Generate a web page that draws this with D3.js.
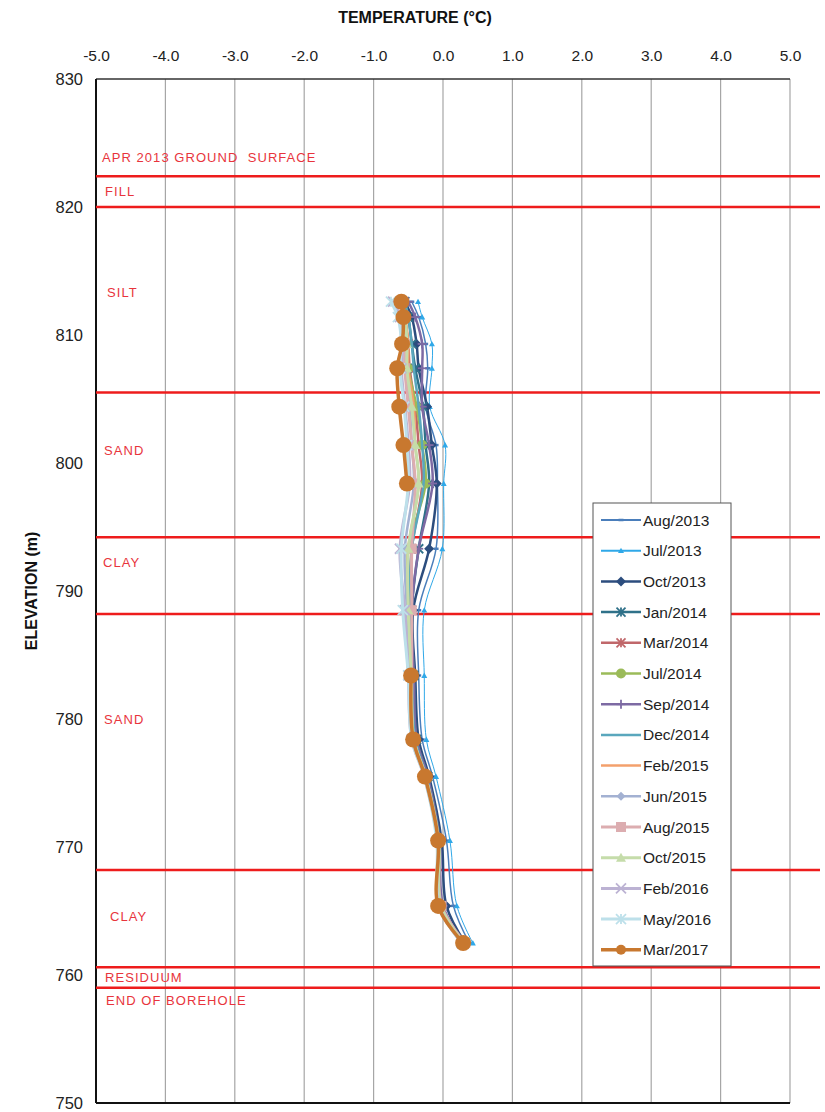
<!DOCTYPE html>
<html>
<head>
<script src="https://cdn.jsdelivr.net/npm/d3@7"></script>
<style>
body { margin: 0; background: #fff; }
* { font-family: 'Liberation Sans', Arial, sans-serif; }
</style>
</head>
<body>
<svg id="chart"></svg>
<script>
// elevations of the thermistor nodes (m)
const elevations = [812.6, 811.4, 809.3, 807.4, 804.4, 801.4, 798.4, 793.3, 788.5, 783.4, 778.4, 775.5, 770.5, 765.4, 762.5];

const seriesNames = ['Aug/2013', 'Jul/2013', 'Oct/2013', 'Jan/2014', 'Mar/2014', 'Jul/2014', 'Sep/2014',
  'Dec/2014', 'Feb/2015', 'Jun/2015', 'Aug/2015', 'Oct/2015', 'Feb/2016', 'May/2016', 'Mar/2017'];

const aug2013 = [-0.45, -0.35, -0.25, -0.22, -0.25, -0.10, -0.08, -0.10, -0.35, -0.35, -0.30, -0.15, 0.05, 0.15, 0.38];
const jul2013 = [-0.36, -0.30, -0.16, -0.16, -0.19, 0.03, 0.01, -0.01, -0.27, -0.27, -0.24, -0.10, 0.10, 0.20, 0.43];
const oct2013 = [-0.55, -0.45, -0.38, -0.35, -0.23, -0.16, -0.09, -0.20, -0.43, -0.40, -0.35, -0.20, -0.02, 0.05, 0.32];
const jan2014 = [-0.55, -0.50, -0.45, -0.40, -0.29, -0.25, -0.20, -0.35, -0.45, -0.42, -0.38, -0.22, -0.05, -0.02, 0.30];
const mar2014 = [-0.60, -0.55, -0.50, -0.48, -0.40, -0.35, -0.30, -0.45, -0.48, -0.45, -0.40, -0.24, -0.07, -0.05, 0.28];
const jul2014 = [-0.60, -0.55, -0.52, -0.50, -0.38, -0.30, -0.25, -0.50, -0.50, -0.45, -0.42, -0.25, -0.07, -0.05, 0.28];
const sep2014 = [-0.50, -0.40, -0.30, -0.30, -0.30, -0.20, -0.15, -0.35, -0.45, -0.42, -0.38, -0.22, -0.05, 0.00, 0.30];
const dec2014 = [-0.55, -0.50, -0.45, -0.42, -0.35, -0.30, -0.28, -0.45, -0.48, -0.45, -0.40, -0.24, -0.06, -0.03, 0.30];
const feb2015 = [-0.60, -0.55, -0.50, -0.50, -0.42, -0.40, -0.35, -0.50, -0.50, -0.46, -0.42, -0.25, -0.07, -0.05, 0.28];
const jun2015 = [-0.62, -0.58, -0.55, -0.55, -0.48, -0.45, -0.42, -0.55, -0.52, -0.47, -0.43, -0.26, -0.08, -0.06, 0.27];
const aug2015 = [-0.62, -0.58, -0.55, -0.55, -0.50, -0.45, -0.40, -0.45, -0.45, -0.45, -0.42, -0.25, -0.07, -0.02, 0.32];
const oct2015 = [-0.60, -0.55, -0.52, -0.52, -0.45, -0.40, -0.35, -0.50, -0.50, -0.46, -0.42, -0.25, -0.06, -0.03, 0.30];
const feb2016 = [-0.72, -0.62, -0.58, -0.60, -0.55, -0.50, -0.48, -0.62, -0.55, -0.50, -0.45, -0.27, -0.08, -0.06, 0.27];
const may2016 = [-0.75, -0.65, -0.60, -0.62, -0.56, -0.52, -0.50, -0.60, -0.58, -0.50, -0.45, -0.27, -0.09, -0.06, 0.27];
// two nodes not read in Mar/2017
const mar2017 = [-0.60, -0.57, -0.59, -0.66, -0.63, -0.57, -0.52, null, null, -0.46, -0.43, -0.26, -0.07, -0.07, 0.29];

const seriesValues = [aug2013, jul2013, oct2013, jan2014, mar2014, jul2014, sep2014,
  dec2014, feb2015, jun2015, aug2015, oct2015, feb2016, may2016, mar2017];

// stratigraphy
const layerBoundaries = [822.4, 820.0, 805.5, 794.2, 788.2, 768.2, 760.6, 759.0];
const layerNames = ['APR 2013 GROUND  SURFACE', 'FILL', 'SILT', 'SAND', 'CLAY', 'SAND', 'CLAY', 'RESIDUUM', 'END OF BOREHOLE'];
const layerNameElev = [823.9, 821.2, 813.3, 801.0, 792.2, 780.0, 764.6, 759.8, 758.0];

const xTicks = [-5, -4, -3, -2, -1, 0, 1, 2, 3, 4, 5];
const yTicks = [830, 820, 810, 800, 790, 780, 770, 760, 750];

// styles per series: colour, line width, marker
const styles = [
  { color: '#4a7ebb', w: 1.5, m: 'dash', s: 5 },
  { color: '#2fa8e8', w: 1, m: 'tri', s: 6 },
  { color: '#2c4d7e', w: 2.5, m: 'diamond', s: 10 },
  { color: '#2f7189', w: 2.5, m: 'star', s: 9 },
  { color: '#c0676a', w: 2.5, m: 'xstar', s: 9 },
  { color: '#9bbb59', w: 2.5, m: 'circle', s: 10 },
  { color: '#7d6aa3', w: 2.5, m: 'plus', s: 9 },
  { color: '#5aa7bd', w: 2.5, m: 'none', s: 0 },
  { color: '#f3a06c', w: 2.5, m: 'none', s: 0 },
  { color: '#a3b1d2', w: 2.5, m: 'diamond', s: 9 },
  { color: '#dcadb0', w: 3, m: 'square', s: 10 },
  { color: '#c5dcaa', w: 3, m: 'tri', s: 10 },
  { color: '#bcb2d3', w: 3, m: 'x', s: 10 },
  { color: '#bde0ea', w: 3, m: 'star', s: 10 },
  { color: '#c8782f', w: 3.5, m: 'circle', s: 16 }
];

const width = 825, height = 1112;
const margin = { left: 96, right: 35, top: 79, bottom: 9 };

const svg = d3.select('#chart').attr('width', width).attr('height', height);

const x = d3.scaleLinear().domain([-5, 5]).range([margin.left, width - margin.right]);
const y = d3.scaleLinear().domain([750, 830]).range([height - margin.bottom, margin.top]);

// grid
svg.append('g').selectAll('line').data(xTicks.slice(1)).enter().append('line')
  .attr('x1', d => x(d)).attr('x2', d => x(d))
  .attr('y1', y(830)).attr('y2', y(750))
  .attr('stroke', '#a6a6a6').attr('stroke-width', 1.2);

// frame: top, left, bottom
svg.append('line').attr('x1', x(-5)).attr('x2', x(5)).attr('y1', y(830)).attr('y2', y(830))
  .attr('stroke', '#333').attr('stroke-width', 1.5);
svg.append('line').attr('x1', x(-5)).attr('x2', x(-5)).attr('y1', y(830)).attr('y2', y(750))
  .attr('stroke', '#111').attr('stroke-width', 2);
svg.append('line').attr('x1', x(-5)).attr('x2', x(5)).attr('y1', y(750)).attr('y2', y(750))
  .attr('stroke', '#111').attr('stroke-width', 2);

// axes labels (plain hyphen for negatives, like the source)
const fmt = d3.format('.1f');
const xAxis = d3.axisTop(x).tickValues(xTicks).tickFormat(d => fmt(d).replace('−', '-')).tickSize(0).tickPadding(0);
const gx = svg.append('g').attr('transform', `translate(0,61)`).call(xAxis);
gx.select('.domain').remove();
gx.selectAll('text').attr('font-size', 15.5).attr('fill', '#222');

const yAxis = d3.axisLeft(y).tickValues(yTicks).tickFormat(d3.format('d')).tickSize(0).tickPadding(0);
const gy = svg.append('g').attr('transform', `translate(83,0)`).call(yAxis);
gy.select('.domain').remove();
gy.selectAll('text').attr('font-size', 16.5).attr('fill', '#222');

svg.append('text').attr('x', 415).attr('y', 23).attr('text-anchor', 'middle')
  .attr('font-size', 16).attr('font-weight', 'bold').attr('fill', '#111')
  .text('TEMPERATURE (°C)');
svg.append('text').attr('transform', `translate(37,${(y(830) + y(750)) / 2}) rotate(-90)`)
  .attr('text-anchor', 'middle').attr('font-size', 16).attr('font-weight', 'bold').attr('fill', '#111')
  .text('ELEVATION (m)');

// layer boundaries
svg.append('g').selectAll('line').data(layerBoundaries).enter().append('line')
  .attr('x1', x(-5)).attr('x2', 820)
  .attr('y1', d => y(d)).attr('y2', d => y(d))
  .attr('stroke', '#ee1c1c').attr('stroke-width', 2.5);

svg.append('g').selectAll('text').data(layerNames).enter().append('text')
  .attr('x', (d, i) => [102, 105, 107, 104, 103, 104, 110, 105, 106][i])
  .attr('y', (d, i) => y(layerNameElev[i]))
  .attr('dy', '0.35em')
  .style('white-space', 'pre')
  .attr('font-size', 13).attr('fill', '#e8343c').attr('letter-spacing', 1.05)
  .text(d => d);

// marker drawing
function marker(g, st, cx, cy) {
  const s = st.s, h = s / 2;
  if (st.m === 'circle') {
    g.append('circle').attr('cx', cx).attr('cy', cy).attr('r', h).attr('fill', st.color);
  } else if (st.m === 'diamond') {
    g.append('path').attr('d', `M${cx},${cy - h}L${cx + h},${cy}L${cx},${cy + h}L${cx - h},${cy}Z`).attr('fill', st.color);
  } else if (st.m === 'square') {
    g.append('rect').attr('x', cx - h).attr('y', cy - h).attr('width', s).attr('height', s).attr('fill', st.color);
  } else if (st.m === 'tri') {
    g.append('path').attr('d', `M${cx},${cy - h}L${cx + h},${cy + h * 0.8}L${cx - h},${cy + h * 0.8}Z`).attr('fill', st.color);
  } else if (st.m === 'dash') {
    g.append('line').attr('x1', cx - h).attr('x2', cx + h).attr('y1', cy).attr('y2', cy)
      .attr('stroke', st.color).attr('stroke-width', 2.5);
  } else if (st.m === 'plus' || st.m === 'x' || st.m === 'star' || st.m === 'xstar') {
    const segs = [];
    if (st.m !== 'x') segs.push([0, -h, 0, h]);
    if (st.m === 'plus') segs.push([-h, 0, h, 0]);
    if (st.m !== 'plus') { segs.push([-h, -h, h, h]); segs.push([-h, h, h, -h]); }
    if (st.m === 'xstar') segs.push([-h, 0, h, 0]);
    segs.forEach(q => g.append('line')
      .attr('x1', cx + q[0]).attr('y1', cy + q[1]).attr('x2', cx + q[2]).attr('y2', cy + q[3])
      .attr('stroke', st.color).attr('stroke-width', 1.8));
  }
}

const line = d3.line()
  .defined(d => d[0] !== null)
  .x(d => x(d[0])).y(d => y(d[1]))
  .curve(d3.curveCatmullRom.alpha(0.5));

// draw series, first in list at the back
seriesValues.forEach((vals, i) => {
  const st = styles[i];
  const pts = vals.map((v, j) => [v, elevations[j]]);
  const g = svg.append('g');
  g.append('path').attr('d', line(pts)).attr('fill', 'none')
    .attr('stroke', st.color).attr('stroke-width', st.w);
  pts.filter(p => p[0] !== null).forEach(p => marker(g, st, x(p[0]), y(p[1])));
});

// legend
const lg = svg.append('g').attr('transform', 'translate(593,503)');
lg.append('rect').attr('width', 138).attr('height', 463)
  .attr('fill', '#fff').attr('stroke', '#555').attr('stroke-width', 1);
seriesNames.forEach((name, i) => {
  const st = styles[i];
  const yy = 17 + i * 30.7;
  const g = lg.append('g');
  g.append('line').attr('x1', 8).attr('x2', 48).attr('y1', yy).attr('y2', yy)
    .attr('stroke', st.color).attr('stroke-width', Math.max(st.w, 2));
  marker(g, Object.assign({}, st, { s: Math.min(st.s, 10) }), 28, yy);
  g.append('text').attr('x', 50).attr('y', yy).attr('dy', '0.36em')
    .attr('font-size', 15.5).attr('fill', '#222').text(name);
});
</script>
</body>
</html>
